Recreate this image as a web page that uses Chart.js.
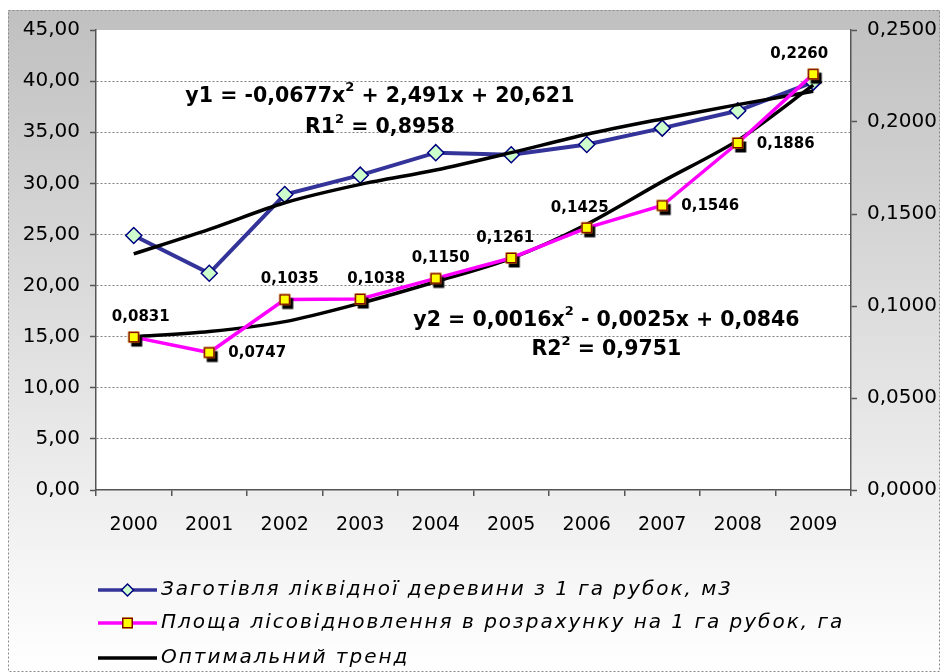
<!DOCTYPE html>
<html><head><meta charset="utf-8">
<script src="https://cdn.jsdelivr.net/npm/chart.js@4.4.0/dist/chart.umd.min.js"></script>
<style>html,body{margin:0;padding:0;background:#fff}#wrap{width:940px;height:672px;position:relative}</style>
</head><body><div id="wrap"><canvas id="c"></canvas></div>
<script>
// ---- data ----
const years = ['2000','2001','2002','2003','2004','2005','2006','2007','2008','2009'];
const harvestVolume = [24.9, 21.2, 28.9, 30.8, 33.0, 32.8, 33.8, 35.4, 37.1, 39.9];
const reforestArea = [0.0831, 0.0747, 0.1035, 0.1038, 0.1150, 0.1261, 0.1425, 0.1546, 0.1886, 0.2260];
const trendVolume = [23.1, 25.5, 28.1, 29.9, 31.3, 33.0, 34.8, 36.3, 37.7, 39.0];
const trendArea = [0.0833, 0.0861, 0.0915, 0.1015, 0.1132, 0.1259, 0.1444, 0.1676, 0.1900, 0.2200];
const leftTicks = [0, 5, 10, 15, 20, 25, 30, 35, 40, 45];
const rightTicks = [0, 0.05, 0.10, 0.15, 0.20, 0.25];
const seriesNames = [
  'Заготівля ліквідної деревини з 1 га рубок, м3',
  'Площа лісовідновлення в розрахунку на 1 га рубок, га',
  'Оптимальний тренд'
];
const eq1 = [['y1 = -0,0677x', false], ['2', true], [' + 2,491x + 20,621', false]];
const r1 = [['R1', false], ['2', true], [' = 0,8958', false]];
const eq2 = [['y2 = 0,0016x', false], ['2', true], [' - 0,0025x + 0,0846', false]];
const r2 = [['R2', false], ['2', true], [' = 0,9751', false]];

// ---- styles ----
const FONT = 'DejaVu Sans';
const labelPlace = [['top', 7], ['right', 0], ['top', 5], ['top', 16], ['top', 5], ['top', -6], ['top', -7], ['right', 0], ['right', 0], ['top', -14]];
// equation anchors: [category index, left-axis value]
const eqAnchors = [[eq1, 3.26, 38.5], [r1, 3.26, 35.4], [eq2, 6.26, 16.6], [r2, 6.26, 13.7]];

function makeSquareMarker(size) {
  const c = document.createElement('canvas');
  c.width = 28; c.height = 28;
  const x = c.getContext('2d');
  const h = size / 2;
  x.fillStyle = '#000';
  x.fillRect(14 - h + 3, 14 - h + 4, size, size);
  x.fillStyle = '#ffff00';
  x.fillRect(14 - h, 14 - h, size, size);
  x.strokeStyle = '#800000';
  x.lineWidth = 1.5;
  x.strokeRect(14 - h + 0.75, 14 - h + 0.75, size - 1.5, size - 1.5);
  return c;
}
const sqMarker = makeSquareMarker(11);

const bgPlugin = {
  id: 'bg',
  beforeDraw(chart) {
    const {ctx, width, height, chartArea: a} = chart;
    ctx.save();
    ctx.fillStyle = '#fff';
    ctx.fillRect(0, 0, width, height);
    const g = ctx.createLinearGradient(0, 10, 0, height);
    g.addColorStop(0, '#c0c0c0');
    g.addColorStop(1, '#ffffff');
    ctx.fillStyle = g;
    ctx.fillRect(8, 10, width - 8, height - 10);
    ctx.strokeStyle = '#8a8a8a';
    ctx.lineWidth = 1;
    ctx.setLineDash([2, 2]);
    ctx.strokeRect(8.5, 10.5, width - 9, height - 11);
    ctx.setLineDash([]);
    ctx.fillStyle = '#fff';
    ctx.fillRect(a.left, a.top, a.right - a.left, a.bottom - a.top);
    ctx.restore();
  }
};

function drawParts(ctx, parts, cx, cy, size) {
  const main = 'bold ' + size + 'px "' + FONT + '"';
  const sup = 'bold ' + Math.round(size * 0.62) + 'px "' + FONT + '"';
  let total = 0;
  parts.forEach(p => { ctx.font = p[1] ? sup : main; total += ctx.measureText(p[0]).width; });
  let x = cx - total / 2;
  ctx.textBaseline = 'middle';
  ctx.textAlign = 'left';
  parts.forEach(p => {
    ctx.font = p[1] ? sup : main;
    ctx.fillText(p[0], x, p[1] ? cy - size * 0.42 : cy);
    x += ctx.measureText(p[0]).width;
  });
}

const annotPlugin = {
  id: 'annot',
  afterDatasetsDraw(chart) {
    const {ctx} = chart;
    const xs = chart.scales.x, ys = chart.scales.y;
    ctx.save();
    ctx.fillStyle = '#000';
    // pink data labels
    const meta = chart.getDatasetMeta(1);
    meta.data.forEach((pt, i) => {
      const v = chart.data.datasets[1].data[i];
      const txt = v.toFixed(4).replace('.', ',');
      ctx.font = 'bold 15px "' + FONT + '"';
      ctx.textBaseline = 'middle';
      const [pos, dx] = labelPlace[i];
      if (pos === 'top') {
        ctx.textAlign = 'center';
        ctx.fillText(txt, pt.x + dx, pt.y - 20);
      } else {
        ctx.textAlign = 'left';
        ctx.fillText(txt, pt.x + 19, pt.y + 1);
      }
    });
    // equations
    eqAnchors.forEach(([parts, xi, yv]) => {
      const px = xs.getPixelForValue(0) + xi * (xs.getPixelForValue(1) - xs.getPixelForValue(0));
      drawParts(ctx, parts, px, ys.getPixelForValue(yv), 20.5);
    });
    ctx.restore();
  },
  afterDraw(chart) {
    const {ctx, chartArea: a} = chart;
    const ds = chart.data.datasets;
    ctx.save();
    const x0 = a.left + 2, x1 = a.left + 61;
    const rows = [a.bottom + 100, a.bottom + 133, a.bottom + 168];
    [0, 1, 2].forEach(k => {
      const y = rows[k];
      const d = ds[k];
      ctx.strokeStyle = d.borderColor;
      ctx.lineWidth = 3.5;
      ctx.beginPath(); ctx.moveTo(x0, y); ctx.lineTo(x1, y); ctx.stroke();
      const mx = (x0 + x1) / 2;
      if (k === 0) {
        ctx.beginPath();
        ctx.moveTo(mx, y - 6); ctx.lineTo(mx + 6, y); ctx.lineTo(mx, y + 6); ctx.lineTo(mx - 6, y); ctx.closePath();
        ctx.fillStyle = '#ccffcc'; ctx.fill();
        ctx.strokeStyle = '#000080'; ctx.lineWidth = 1.5; ctx.stroke();
      } else if (k === 1) {
        ctx.fillStyle = '#ffff00';
        ctx.fillRect(mx - 5.5, y - 5.5, 11, 11);
        ctx.strokeStyle = '#800000'; ctx.lineWidth = 1.5;
        ctx.strokeRect(mx - 4.75, y - 4.75, 9.5, 9.5);
      }
      ctx.fillStyle = '#000';
      ctx.font = 'italic 20px "' + FONT + '"';
      ctx.textAlign = 'left';
      ctx.textBaseline = 'middle';
      try { ctx.letterSpacing = '2px'; } catch (e) {}
      ctx.fillText(seriesNames[k], x1 + 4, y);
      try { ctx.letterSpacing = '0px'; } catch (e) {}
    });
    ctx.restore();
  }
};

const tickFont = {family: FONT, size: 20};
new Chart(document.getElementById('c'), {
  type: 'line',
  data: {
    labels: years,
    datasets: [
      {label: seriesNames[0], data: harvestVolume, yAxisID: 'y', borderColor: '#333399', borderWidth: 4,
       pointStyle: 'rectRot', pointRadius: 8, pointBackgroundColor: '#ccffcc', pointBorderColor: '#000080', pointBorderWidth: 1.5, order: 3},
      {label: seriesNames[1], data: reforestArea, yAxisID: 'y1', borderColor: '#ff00ff', borderWidth: 3.5,
       pointStyle: sqMarker, pointRadius: 7, order: 1},
      {label: seriesNames[2], data: trendVolume, yAxisID: 'y', borderColor: '#000000', borderWidth: 3.5,
       pointRadius: 0, tension: 0.3, order: 2},
      {label: seriesNames[2], data: trendArea, yAxisID: 'y1', borderColor: '#000000', borderWidth: 3.5,
       pointRadius: 0, tension: 0.3, order: 2}
    ]
  },
  options: {
    responsive: true,
    maintainAspectRatio: false,
    animation: false,
    layout: {padding: {left: 8, right: 0, top: 30, bottom: 132}},
    plugins: {legend: {display: false}, tooltip: {enabled: false}},
    scales: {
      x: {
        offset: true,
        grid: {display: true, offset: true, drawOnChartArea: false, drawTicks: true, tickLength: 6, tickColor: '#555', color: '#555', lineWidth: 1.5},
        border: {display: true, color: '#555', width: 1.5},
        ticks: {color: '#000', font: {family: FONT, size: 19}, padding: 18, maxRotation: 0, autoSkip: false},
        afterFit(s) { s.height = 50; }
      },
      y: {
        position: 'left', min: 0, max: 45,
        afterBuildTicks(s) { s.ticks = leftTicks.map(v => ({value: v})); },
        grid: {color: c => (c.tick && (c.tick.value === 0 || c.tick.value === 45)) ? 'rgba(0,0,0,0)' : '#808080',
               lineWidth: 1, drawTicks: true, tickLength: 6, tickColor: '#555', tickWidth: 1.5},
        border: {display: true, color: '#555', width: 1.5, dash: [2, 2]},
        ticks: {color: '#000', font: tickFont, padding: 10, callback: v => v.toFixed(2).replace('.', ',')},
        afterFit(s) { s.width = 88; }
      },
      y1: {
        position: 'right', min: 0, max: 0.25,
        afterBuildTicks(s) { s.ticks = rightTicks.map(v => ({value: v})); },
        grid: {drawOnChartArea: false, drawTicks: true, tickLength: 6, tickColor: '#555', tickWidth: 1.5},
        border: {display: true, color: '#555', width: 1.5},
        ticks: {color: '#000', font: tickFont, padding: 10, callback: v => v.toFixed(4).replace('.', ',')},
        afterFit(s) { s.width = 89; }
      }
    }
  },
  plugins: [bgPlugin, annotPlugin]
});
</script></body></html>
